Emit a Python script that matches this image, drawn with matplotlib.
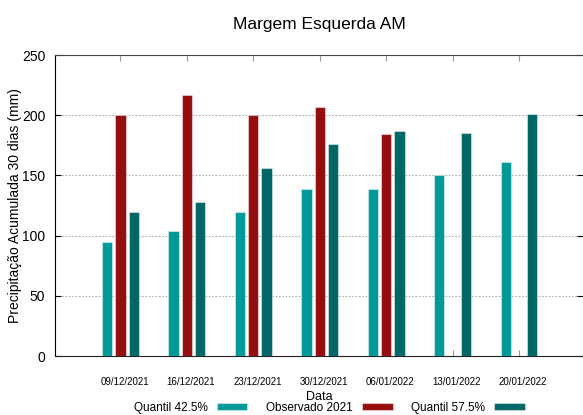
import numpy as np
import matplotlib
matplotlib.use('Agg')
import matplotlib.pyplot as plt
import matplotlib.transforms as mtransforms

plt.rcParams['font.family'] = ['Liberation Sans Narrow', 'Liberation Sans', 'DejaVu Sans']

datas = ['09/12/2021', '16/12/2021', '23/12/2021', '30/12/2021',
         '06/01/2022', '13/01/2022', '20/01/2022']
q425 = [95, 104, 120, 139, 139, 150, 161]
obs2021 = [200, 217, 200, 207, 184, np.nan, np.nan]
q575 = [120, 128, 156, 176, 187, 185, 201]

c_q425 = '#009999'
c_obs = '#940d0f'
c_q575 = '#006666'

fig = plt.figure(figsize=(5.83, 4.15), dpi=100)
ax = fig.add_axes([55/583, 59/415, 1 - 55/583, 301/415])

x = np.arange(len(datas))
w = 0.155
off = 0.2
ec = (1, 1, 1, 0.45)
ax.bar(x - off, q425, w, color=c_q425, edgecolor=ec, linewidth=0.8, label='Quantil 42.5%', zorder=3)
ax.bar(x, obs2021, w, color=c_obs, edgecolor=ec, linewidth=0.8, label='Observado 2021', zorder=3)
ax.bar(x + off, q575, w, color=c_q575, edgecolor=ec, linewidth=0.8, label='Quantil 57.5%', zorder=3)

ax.set_xlim(-0.986, 6.964)
ax.set_ylim(0, 250)
ax.set_yticks([0, 50, 100, 150, 200, 250])
ax.set_xticks(x)
ax.set_xticklabels(datas, fontsize=7)

ax.yaxis.grid(True, linestyle=(0, (1.5, 1.5)), color='#b0b0b0', linewidth=0.8, zorder=0)
ax.tick_params(axis='y', direction='in', length=4, labelsize=10, pad=7, right=True, colors='black')
ax.tick_params(axis='x', direction='in', length=4, pad=15, top=True, color='#999999')

# rotulos das datas levemente deslocados para a direita
shift = mtransforms.ScaledTranslation(4/100, 0, fig.dpi_scale_trans)
for lbl in ax.get_xticklabels():
    lbl.set_transform(lbl.get_transform() + shift)

ax.spines['right'].set_visible(False)
ax.spines['top'].set_color('#444444')
ax.spines['left'].set_color('black')
ax.spines['bottom'].set_color('#222222')

ax.set_title('Margem Esquerda AM', fontsize=12.5, pad=19)
ax.set_ylabel('Precipitação Acumulada 30 dias (mm)', fontsize=10, labelpad=0)
ax.set_xlabel('Data', fontsize=9, labelpad=3)

fig.legend(*ax.get_legend_handles_labels(), loc='center',
           bbox_to_anchor=(329.5/583, 1 - 408/415), bbox_transform=fig.transFigure,
           ncol=3, frameon=False, markerfirst=False, fontsize=8.5,
           handlelength=2.6, handleheight=0.5, columnspacing=1.6,
           handletextpad=0.75, borderpad=0, borderaxespad=0)

fig.savefig('out.png', dpi=100)
